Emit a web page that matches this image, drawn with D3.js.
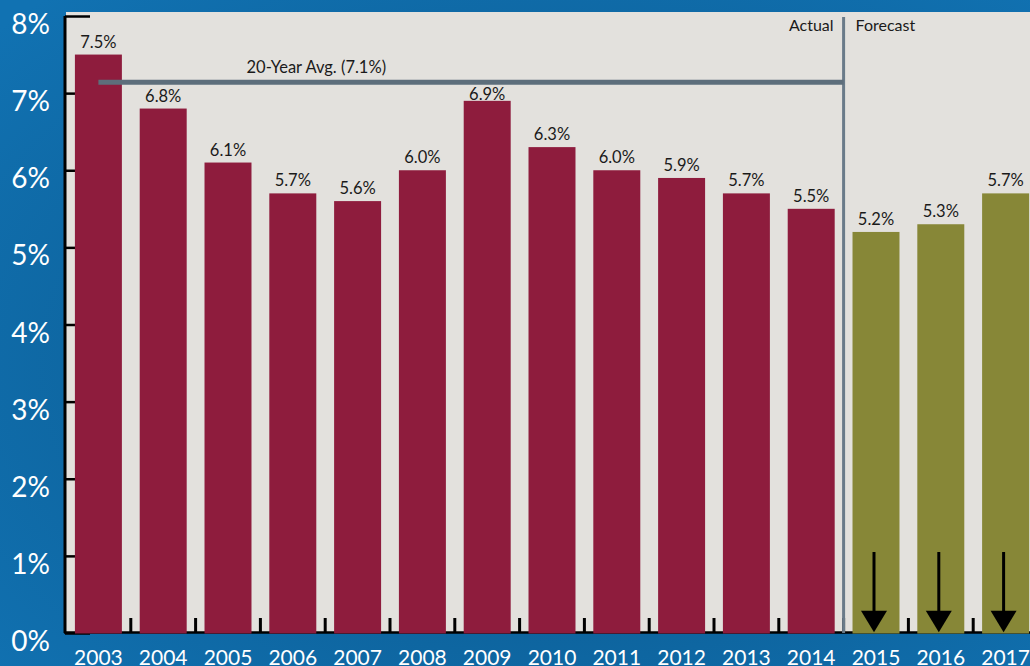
<!DOCTYPE html>
<html>
<head>
<meta charset="utf-8">
<script src="https://cdn.jsdelivr.net/npm/d3@7"></script>
<style>
  html, body { margin: 0; padding: 0; overflow: hidden; }
  svg { display: block; font-family: Lato, 'Open Sans', sans-serif; }
</style>
</head>
<body>
<svg id="chart" width="1030" height="666"></svg>
<script>
const years = ['2003', '2004', '2005', '2006', '2007', '2008', '2009', '2010',
  '2011', '2012', '2013', '2014', '2015', '2016', '2017'];
const actualValues = [7.5, 6.8, 6.1, 5.7, 5.6, 6.0, 6.9, 6.3, 6.0, 5.9, 5.7, 5.5];
const forecastValues = [5.2, 5.3, 5.7];
const yTicks = [0, 1, 2, 3, 4, 5, 6, 7, 8];
const avgValue = 7.14;
const avgLabel = '20-Year Avg. (7.1%)';

const width = 1030;
const height = 666;
const margin = { top: 16, right: -8, bottom: 33, left: 66 };

const data = years.map((y, i) => ({
  year: y,
  value: i < actualValues.length ? actualValues[i] : forecastValues[i - actualValues.length],
  forecast: i >= actualValues.length,
}));

const svg = d3.select('#chart');

// blue backdrop
const defs = svg.append('defs');
const grad = defs.append('radialGradient')
  .attr('id', 'bg')
  .attr('cx', '55%').attr('cy', '55%').attr('r', '75%');
grad.append('stop').attr('offset', '0%').attr('stop-color', '#0a5589');
grad.append('stop').attr('offset', '100%').attr('stop-color', '#1172b2');
svg.append('rect').attr('width', width).attr('height', height).attr('fill', 'url(#bg)');

const x = d3.scaleBand()
  .domain(years)
  .range([margin.left, width - margin.right])
  .paddingInner(0.275)
  .paddingOuter(0.1375);

const y = d3.scaleLinear()
  .domain([0, 8])
  .range([height - margin.bottom, margin.top]);

// plot panel
svg.append('rect')
  .attr('x', margin.left)
  .attr('y', 12)
  .attr('width', width - margin.left)
  .attr('height', y(0) - 12)
  .attr('fill', '#e3e1dd');

// y axis: inward ticks, labels outside
const yAxis = svg.append('g')
  .attr('transform', `translate(${margin.left - 1}, 0)`)
  .call(d3.axisRight(y).tickValues(yTicks).tickSize(25).tickFormat(() => ''));
yAxis.select('.domain').attr('stroke', '#000').attr('stroke-width', 3)
  .attr('d', `M0,${y(8)}V${y(0)}`);
yAxis.selectAll('.tick line').attr('stroke', '#000').attr('stroke-width', 2.5);

svg.append('g')
  .selectAll('text')
  .data(yTicks)
  .join('text')
  .attr('x', 50)
  .attr('y', (d) => y(d) + 18)
  .attr('text-anchor', 'end')
  .attr('fill', '#fff')
  .style('font-size', '28px')
  .text((d) => d + '%');

// x axis baseline + ticks between bars
const step = x.step();
const x0 = x.range()[0];
const boundaries = d3.range(1, years.length).map((k) => x0 + step * k);
svg.append('line')
  .attr('x1', margin.left - 2).attr('x2', width)
  .attr('y1', y(0) - 0.5).attr('y2', y(0) - 0.5)
  .attr('stroke', '#000').attr('stroke-width', 2.5);
svg.append('g')
  .selectAll('line')
  .data(boundaries)
  .join('line')
  .attr('x1', (d) => d).attr('x2', (d) => d)
  .attr('y1', y(0) - 15).attr('y2', y(0))
  .attr('stroke', '#000').attr('stroke-width', 3);

// bars
svg.append('g')
  .selectAll('rect')
  .data(data)
  .join('rect')
  .attr('x', (d) => x(d.year))
  .attr('y', (d) => y(d.value))
  .attr('width', x.bandwidth())
  .attr('height', (d) => y(0) - y(d.value) + 0.5)
  .attr('fill', (d) => (d.forecast ? '#878737' : '#8e1c3d'));

// actual / forecast separator
const sepX = x0 + step * actualValues.length;
svg.append('line')
  .attr('x1', sepX).attr('x2', sepX)
  .attr('y1', 17).attr('y2', y(0))
  .attr('stroke', '#6a7b89').attr('stroke-width', 3);
svg.append('text')
  .attr('x', sepX - 10).attr('y', 31)
  .attr('text-anchor', 'end')
  .attr('fill', '#1a1a1a')
  .style('font-size', '16px')
  .text('Actual');
svg.append('text')
  .attr('x', sepX + 12).attr('y', 31)
  .attr('fill', '#1a1a1a')
  .style('font-size', '16px')
  .text('Forecast');

// 20-year average line
const avgY = y(avgValue);
svg.append('line')
  .attr('x1', x(years[0]) + x.bandwidth() / 2).attr('x2', sepX)
  .attr('y1', avgY).attr('y2', avgY)
  .attr('stroke', '#5d6e7b').attr('stroke-width', 5);
svg.append('text')
  .attr('x', x('2006') + x.bandwidth())
  .attr('y', avgY - 9)
  .attr('text-anchor', 'middle')
  .attr('fill', '#1a1a1a')
  .style('font-size', '16.5px')
  .text(avgLabel);

// value labels (nudged below the avg line where they would collide)
svg.append('g')
  .selectAll('text')
  .data(data)
  .join('text')
  .attr('x', (d) => x(d.year) + x.bandwidth() / 2)
  .attr('y', (d) => {
    const base = y(d.value) - 7;
    const hitsLine = base > avgY && base - 12 < avgY + 3;
    return hitsLine ? avgY + 17.5 : base;
  })
  .attr('text-anchor', 'middle')
  .attr('fill', '#1a1a1a')
  .style('font-size', '16.5px')
  .text((d) => d.value.toFixed(1) + '%');

// year labels
svg.append('g')
  .selectAll('text')
  .data(years)
  .join('text')
  .attr('x', (d) => x(d) + x.bandwidth() / 2)
  .attr('y', 665)
  .attr('text-anchor', 'middle')
  .attr('fill', '#fff')
  .style('font-size', '21px')
  .text((d) => d);

// downward arrows in forecast bars
const arrows = svg.append('g')
  .selectAll('g')
  .data(data.filter((d) => d.forecast))
  .join('g')
  .attr('transform', (d) => `translate(${x(d.year) + x.bandwidth() / 2 - 2}, 0)`);
arrows.append('line')
  .attr('x1', 0).attr('x2', 0)
  .attr('y1', y(1.05)).attr('y2', y(0.25))
  .attr('stroke', '#000').attr('stroke-width', 3);
arrows.append('path')
  .attr('d', `M-13,${y(0.29)}L13,${y(0.29)}L0,${y(0.01)}Z`)
  .attr('fill', '#000');
</script>
</body>
</html>
